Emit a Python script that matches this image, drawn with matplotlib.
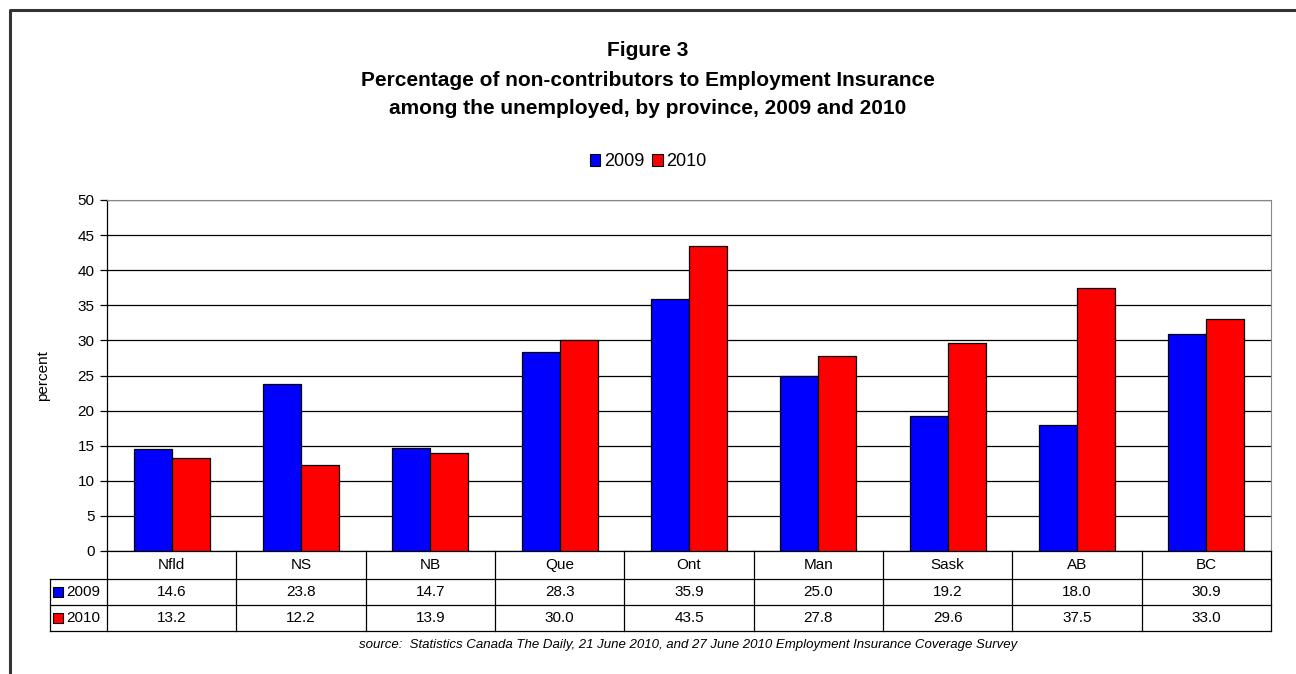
import numpy as np
import matplotlib.pyplot as plt
import matplotlib.transforms as mtransforms
from matplotlib.patches import Rectangle

plt.rcParams["font.family"] = ["Liberation Sans", "DejaVu Sans"]

provinces = ["Nfld", "NS", "NB", "Que", "Ont", "Man", "Sask", "AB", "BC"]
vals_2009 = [14.6, 23.8, 14.7, 28.3, 35.9, 25.0, 19.2, 18.0, 30.9]
vals_2010 = [13.2, 12.2, 13.9, 30.0, 43.5, 27.8, 29.6, 37.5, 33.0]
series = ["2009", "2010"]
colors = ["#0000FF", "#FF0000"]

W, H = 1296, 674
fig = plt.figure(figsize=(W / 100, H / 100), dpi=100)


def fy(y):
    return 1 - y / H


def fx(x):
    return x / W


# outer frame
fig.add_artist(plt.Line2D([fx(10), fx(10), fx(1300)], [fy(680), fy(10), fy(10)],
                          color="#333333", lw=2.2, transform=fig.transFigure))

ax = fig.add_axes([fx(107), fy(551), fx(1271) - fx(107), (551 - 200) / H])

x = np.arange(len(provinces))
bw = 0.295
ax.bar(x - bw / 2, vals_2009, bw, color=colors[0], edgecolor="black", lw=0.9, zorder=3)
ax.bar(x + bw / 2, vals_2010, bw, color=colors[1], edgecolor="black", lw=0.9, zorder=3)

ax.set_xlim(-0.5, len(provinces) - 0.5)
ax.set_ylim(0, 50)
ax.set_yticks(range(0, 51, 5))
ax.yaxis.grid(True, color="black", lw=0.9)
ax.set_axisbelow(True)
ax.set_xticks([])
ax.tick_params(axis="y", length=5, width=0.9, labelsize=11, pad=4)
for s in ["top", "right"]:
    ax.spines[s].set_color("#888888")
ax.spines["left"].set_linewidth(0.9)
ax.spines["bottom"].set_linewidth(0.9)
ax.set_ylabel("percent", fontsize=11, labelpad=20)

# title and legend
title_lines = ["Figure 3",
               "Percentage of non-contributors to Employment Insurance",
               "among the unemployed, by province, 2009 and 2010"]
for t, yy in zip(title_lines, [50, 80, 108]):
    fig.text(0.5, fy(yy), t, ha="center", va="center", fontsize=15, fontweight="bold")

handles = [Rectangle((0, 0), 1, 1, fc=c, ec="black", lw=0.8) for c in colors]
fig.legend(handles, series, loc="center", bbox_to_anchor=(0.5, fy(162)), ncol=2,
           frameon=False, fontsize=13, handlelength=0.6, handleheight=0.7,
           handletextpad=0.2, columnspacing=0.4)

# data table below the axes
tr = mtransforms.blended_transform_factory(ax.transData, fig.transFigure)
line_kw = dict(color="black", lw=0.9, clip_on=False)
for b in np.arange(-0.5, len(provinces), 1.0):
    ax.plot([b, b], [fy(551), fy(631)], transform=tr, **line_kw)
for yy in [579, 605, 631]:
    fig.add_artist(plt.Line2D([fx(50), fx(1271)], [fy(yy), fy(yy)],
                              transform=fig.transFigure, color="black", lw=0.9))
fig.add_artist(plt.Line2D([fx(50), fx(50)], [fy(579), fy(631)],
                          transform=fig.transFigure, color="black", lw=0.9))

for i, p in enumerate(provinces):
    ax.text(i, fy(565), p, transform=tr, ha="center", va="center", fontsize=11)
    ax.text(i, fy(592), f"{vals_2009[i]:.1f}", transform=tr, ha="center", va="center", fontsize=11)
    ax.text(i, fy(618), f"{vals_2010[i]:.1f}", transform=tr, ha="center", va="center", fontsize=11)

for k, (name, c) in enumerate(zip(series, colors)):
    yc = 592 + 26 * k
    fig.add_artist(Rectangle((fx(53), fy(yc + 5)), fx(10), 10 / H, transform=fig.transFigure,
                             fc=c, ec="black", lw=0.8))
    fig.text(fx(66), fy(yc), name, ha="left", va="center", fontsize=11)

fig.text(fx(688), fy(645), "source:  Statistics Canada The Daily, 21 June 2010, and 27 June 2010 "
         "Employment Insurance Coverage Survey", ha="center", va="center",
         fontsize=9.5, style="italic")

fig.savefig("out.png", dpi=100)
